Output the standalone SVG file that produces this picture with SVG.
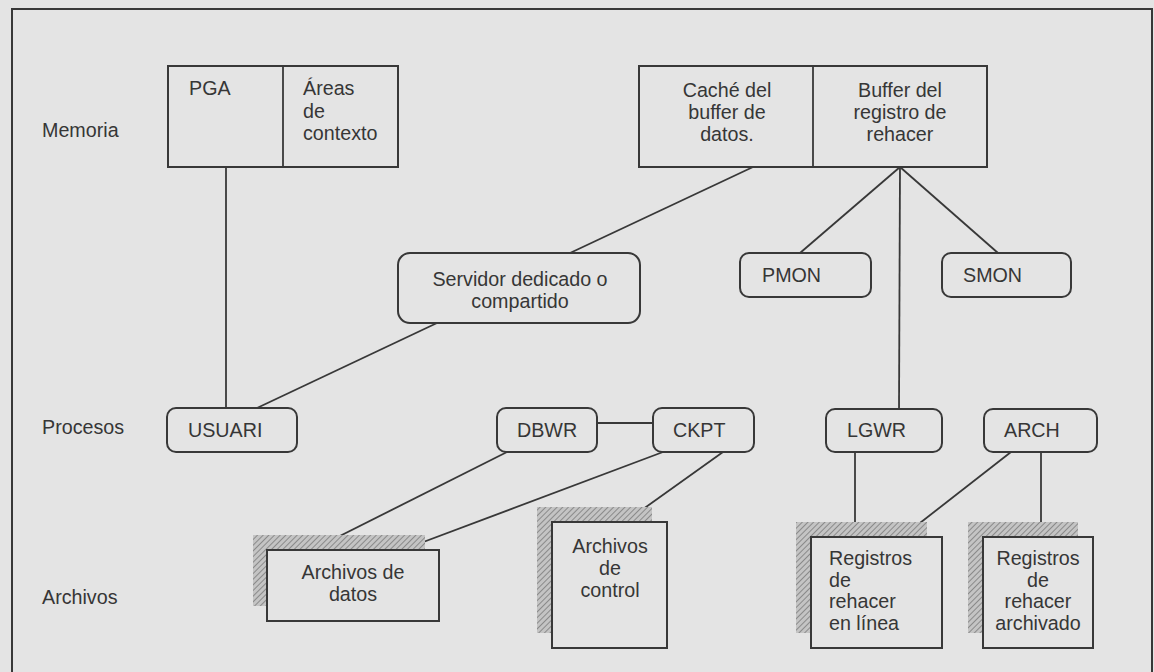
<svg xmlns="http://www.w3.org/2000/svg" width="1154" height="672" viewBox="0 0 1154 672">
<defs>
<pattern id="hatch" width="4" height="4" patternUnits="userSpaceOnUse" patternTransform="rotate(45)">
<rect width="4" height="4" fill="#c4c4c4"/>
<line x1="0" y1="0" x2="0" y2="4" stroke="#8a8a8a" stroke-width="2"/>
</pattern>
<style>
.bx{fill:#e4e4e4;stroke:#383838;stroke-width:2}
.rb{fill:#e4e4e4;stroke:#383838;stroke-width:2}
.sh{fill:url(#hatch);stroke:none}
.ln{stroke:#383838;stroke-width:1.8;fill:none}
text{font-family:"Liberation Sans",Arial,sans-serif;font-size:19.7px;fill:#363636}
.c{text-anchor:middle}
</style>
</defs>
<rect x="0" y="0" width="1154" height="672" fill="#e4e4e4"/>
<path d="M12,672 V9 H1152 V672" fill="none" stroke="#383838" stroke-width="2"/>

<g id="labels">
<text x="42" y="137">Memoria</text>
<text x="42" y="434">Procesos</text>
<text x="42" y="604">Archivos</text>
</g>

<g id="connectors">
<line class="ln" x1="226" y1="167" x2="226" y2="408"/>
<line class="ln" x1="753" y1="167" x2="570" y2="253"/>
<line class="ln" x1="437" y1="323" x2="257" y2="408"/>
<line class="ln" x1="900" y1="167" x2="800" y2="253"/>
<line class="ln" x1="900" y1="167" x2="998" y2="253"/>
<line class="ln" x1="900" y1="167" x2="899" y2="409"/>
<line class="ln" x1="597" y1="423" x2="653" y2="423"/>
<line class="ln" x1="507" y1="452" x2="312" y2="550"/>
<line class="ln" x1="663" y1="452" x2="402" y2="550"/>
<line class="ln" x1="723" y1="452" x2="625" y2="522"/>
<line class="ln" x1="855" y1="452" x2="855" y2="537"/>
<line class="ln" x1="1011" y1="452" x2="902" y2="537"/>
<line class="ln" x1="1041" y1="452" x2="1041" y2="537"/>
</g>

<g id="pga">
<rect class="bx" x="168" y="66" width="230" height="101"/>
<line class="ln" x1="283" y1="66" x2="283" y2="167"/>
<text x="189" y="95">PGA</text>
<text x="303" y="95">Áreas</text>
<text x="303" y="118">de</text>
<text x="303" y="140">contexto</text>
</g>

<g id="sga">
<rect class="bx" x="639" y="66" width="348" height="101"/>
<line class="ln" x1="813" y1="66" x2="813" y2="167"/>
<text class="c" x="727" y="97">Caché del</text>
<text class="c" x="727" y="119">buffer de</text>
<text class="c" x="727" y="141">datos.</text>
<text class="c" x="900" y="97">Buffer del</text>
<text class="c" x="900" y="119">registro de</text>
<text class="c" x="900" y="141">rehacer</text>
</g>

<g id="servidor">
<rect class="rb" x="398" y="253" width="242" height="70" rx="12"/>
<text class="c" x="520" y="286">Servidor dedicado o</text>
<text class="c" x="520" y="308">compartido</text>
</g>

<g id="pmon">
<rect class="rb" x="740" y="253" width="131" height="44" rx="9"/>
<text x="762" y="282">PMON</text>
</g>

<g id="smon">
<rect class="rb" x="942" y="253" width="129" height="44" rx="9"/>
<text x="963" y="282">SMON</text>
</g>

<g id="usuari">
<rect class="rb" x="167" y="408" width="130" height="44" rx="9"/>
<text x="188" y="437">USUARI</text>
</g>

<g id="dbwr">
<rect class="rb" x="497" y="408" width="100" height="44" rx="9"/>
<text x="517" y="437">DBWR</text>
</g>

<g id="ckpt">
<rect class="rb" x="653" y="408" width="101" height="44" rx="9"/>
<text x="673" y="437">CKPT</text>
</g>

<g id="lgwr">
<rect class="rb" x="826" y="409" width="116" height="43" rx="9"/>
<text x="847" y="437">LGWR</text>
</g>

<g id="arch">
<rect class="rb" x="984" y="409" width="113" height="43" rx="9"/>
<text x="1004" y="437">ARCH</text>
</g>

<g id="archivos-datos">
<rect class="sh" x="253" y="535" width="172" height="71"/>
<rect class="bx" x="267" y="550" width="172" height="71"/>
<text class="c" x="353" y="579">Archivos de</text>
<text class="c" x="353" y="601">datos</text>
</g>

<g id="archivos-control">
<rect class="sh" x="537" y="507" width="115" height="126"/>
<rect class="bx" x="552" y="522" width="115" height="126"/>
<text class="c" x="610" y="553">Archivos</text>
<text class="c" x="610" y="575">de</text>
<text class="c" x="610" y="597">control</text>
</g>

<g id="registros-linea">
<rect class="sh" x="796" y="522" width="131" height="111"/>
<rect class="bx" x="811" y="537" width="131" height="111"/>
<text x="829" y="565">Registros</text>
<text x="829" y="587">de</text>
<text x="829" y="608">rehacer</text>
<text x="829" y="630">en línea</text>
</g>

<g id="registros-archivado">
<rect class="sh" x="968" y="522" width="110" height="111"/>
<rect class="bx" x="983" y="537" width="110" height="111"/>
<text class="c" x="1038" y="565">Registros</text>
<text class="c" x="1038" y="587">de</text>
<text class="c" x="1038" y="608">rehacer</text>
<text class="c" x="1038" y="630">archivado</text>
</g>
</svg>
